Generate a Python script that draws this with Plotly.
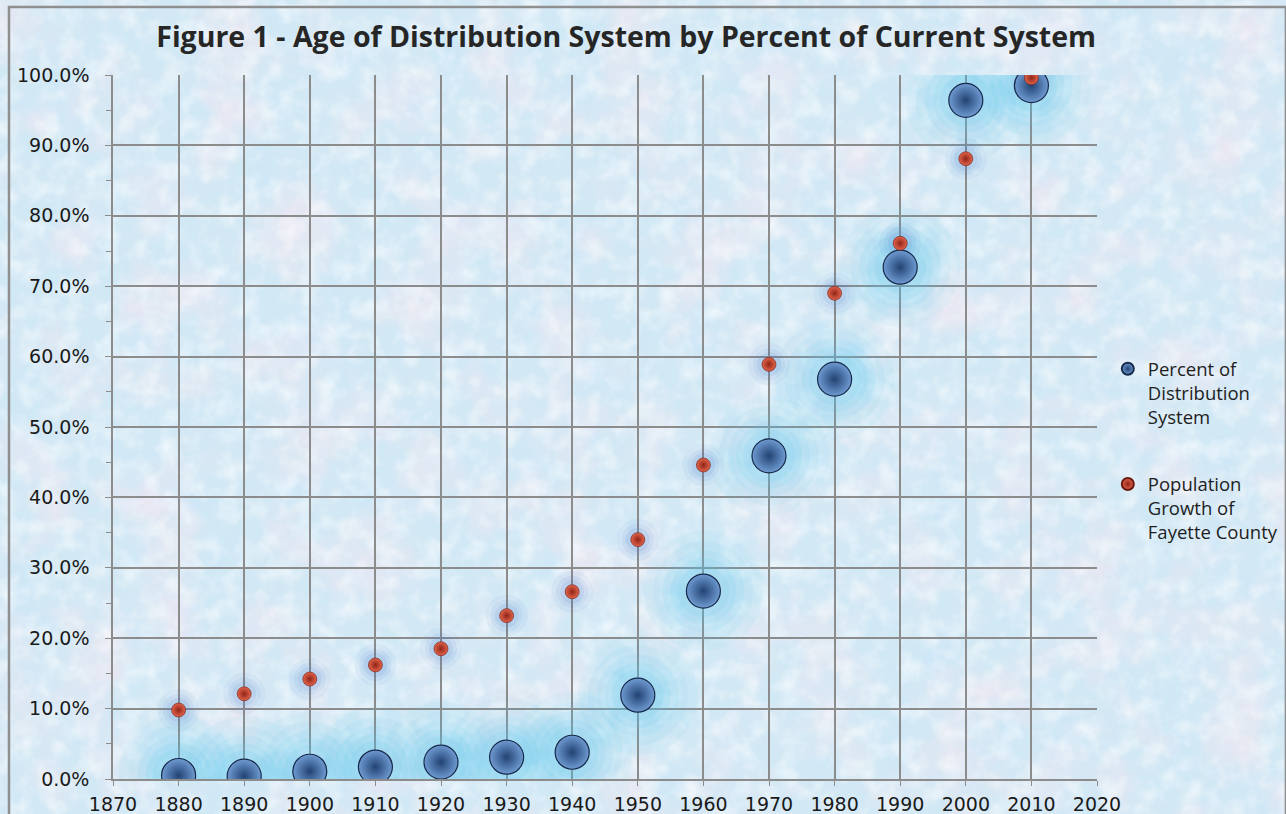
import urllib.parse
import plotly.graph_objects as go

# Decades on the x axis
years = [1880, 1890, 1900, 1910, 1920, 1930, 1940, 1950, 1960, 1970, 1980, 1990, 2000, 2010]

# Share of the current distribution system installed by each decade
pct_system = [0.005, 0.004, 0.011, 0.017, 0.024, 0.031, 0.038, 0.119, 0.267, 0.459, 0.568, 0.727, 0.964, 0.985]

# County population as a share of today's population
pop_growth = [0.098, 0.121, 0.142, 0.162, 0.185, 0.232, 0.266, 0.340, 0.446, 0.589, 0.690, 0.761, 0.881, 0.996]

x_ticks = list(range(1870, 2021, 10))
title_text = "Figure 1 - Age of Distribution System by Percent of Current System"
name_system = "Percent of<br>Distribution<br>System"
name_pop = "Population<br>Growth of<br>Fayette County"

# Mottled paper texture drawn as an SVG filter
texture_svg = (
    "<svg xmlns='http://www.w3.org/2000/svg' width='1286' height='814'>"
    "<filter id='n1' x='0' y='0' width='100%' height='100%'>"
    "<feTurbulence type='fractalNoise' baseFrequency='0.015' numOctaves='4' seed='4'/>"
    "<feColorMatrix type='matrix' values='0 0 0 0 0.94  0 0 0 0 0.80  0 0 0 0 0.88  1.4 0 0 0 -0.62'/>"
    "</filter>"
    "<filter id='n2' x='0' y='0' width='100%' height='100%'>"
    "<feTurbulence type='fractalNoise' baseFrequency='0.05' numOctaves='3' seed='9'/>"
    "<feColorMatrix type='matrix' values='0 0 0 0 1  0 0 0 0 1  0 0 0 0 1  0 1.2 0 0 -0.5'/>"
    "</filter>"
    "<filter id='n3' x='0' y='0' width='100%' height='100%'>"
    "<feTurbulence type='fractalNoise' baseFrequency='0.025' numOctaves='3' seed='2'/>"
    "<feColorMatrix type='matrix' values='0 0 0 0 0.62  0 0 0 0 0.80  0 0 0 0 0.94  0 0 1.5 0 -0.55'/>"
    "</filter>"
    "<rect width='100%' height='100%' fill='#d2e8f4'/>"
    "<rect width='100%' height='100%' filter='url(#n3)'/>"
    "<rect width='100%' height='100%' filter='url(#n1)'/>"
    "<rect width='100%' height='100%' filter='url(#n2)'/>"
    "</svg>"
)
texture_uri = "data:image/svg+xml;charset=utf-8," + urllib.parse.quote(texture_svg)

fig = go.Figure()

# Soft cyan halo behind the large spheres
for size, alpha in [(120, 0.06), (100, 0.07), (82, 0.09), (66, 0.11), (52, 0.12)]:
    fig.add_trace(go.Scatter(
        x=years, y=pct_system, mode="markers", hoverinfo="skip", showlegend=False,
        marker=dict(size=size, color=f"rgba(80,200,240,{alpha})", line=dict(width=0)),
    ))

# Faint blue shadow around the small spheres
for size, alpha in [(42, 0.06), (32, 0.08), (24, 0.10)]:
    fig.add_trace(go.Scatter(
        x=years, y=pop_growth, mode="markers", hoverinfo="skip", showlegend=False,
        marker=dict(size=size, color=f"rgba(70,120,210,{alpha})", line=dict(width=0)),
    ))

fig.add_trace(go.Scatter(
    x=years, y=pct_system, mode="markers", name=name_system, legendgroup="a",
    marker=dict(size=34, color="#6f9bd2", line=dict(width=1.2, color="#17294a"),
                gradient=dict(type="radial", color="#224373")),
))
fig.add_trace(go.Scatter(
    x=years, y=pop_growth, mode="markers", name=name_pop, legendgroup="b",
    marker=dict(size=14, color="#e2644c", line=dict(width=0.6, color="#6a1a10"),
                gradient=dict(type="radial", color="#902516")),
))

fig.update_layout(
    width=1286, height=814,
    margin=dict(l=113, r=189, t=75, b=35, autoexpand=False),
    paper_bgcolor="#d3e7f3",
    plot_bgcolor="rgba(0,0,0,0)",
    images=[dict(source=texture_uri, xref="paper", yref="paper", x=-0.1148, y=1.1065,
                 sizex=1.3069, sizey=1.1563, sizing="stretch", layer="below",
                 xanchor="left", yanchor="top")],
    title=dict(text=f"<b>{title_text}</b>", x=0.5215, xref="paper", xanchor="center",
               y=0.955, yanchor="middle",
               font=dict(family="Open Sans", size=28.5, color="#262626")),
    showlegend=True,
    legend=dict(x=1.011, y=0.609, xanchor="left", yanchor="top", valign="top",
                bgcolor="rgba(0,0,0,0)", itemsizing="constant", tracegroupgap=40,
                font=dict(family="Open Sans", size=18.5, color="#1e1e1e")),
    font=dict(family="DejaVu Sans", color="#1a1a1a"),
)

fig.update_xaxes(
    range=[1870, 2020], tickvals=x_ticks, ticktext=[str(v) for v in x_ticks],
    showgrid=True, gridcolor="#8c8c8c", gridwidth=1.5,
    showline=True, linecolor="#8c8c8c", linewidth=1.5,
    ticks="outside", ticklen=5, tickcolor="#8c8c8c",
    tickfont=dict(family="DejaVu Sans", size=19, color="#1a1a1a"),
    ticklabelstandoff=2,
    zeroline=False, automargin=False,
)
fig.update_yaxes(
    range=[0, 1], dtick=0.1, tickformat=".1%",
    showgrid=True, gridcolor="#8c8c8c", gridwidth=1.5,
    showline=True, linecolor="#8c8c8c", linewidth=1.5,
    ticks="outside", ticklen=6, tickcolor="#8c8c8c",
    minor=dict(dtick=0.05, ticks="outside", ticklen=5, tickcolor="#8c8c8c", showgrid=False),
    tickfont=dict(family="DejaVu Sans", size=19, color="#1a1a1a"),
    ticklabelstandoff=12,
    zeroline=False, automargin=False,
)

# Grey frame round the chart area
fig.add_shape(type="rect", xref="paper", yref="paper", x0=-0.1057, x1=1.192, y0=-0.052, y1=1.0965,
              line=dict(color="#8f8f8f", width=2.5), fillcolor="rgba(0,0,0,0)", layer="above")

fig.write_html("out.html")
